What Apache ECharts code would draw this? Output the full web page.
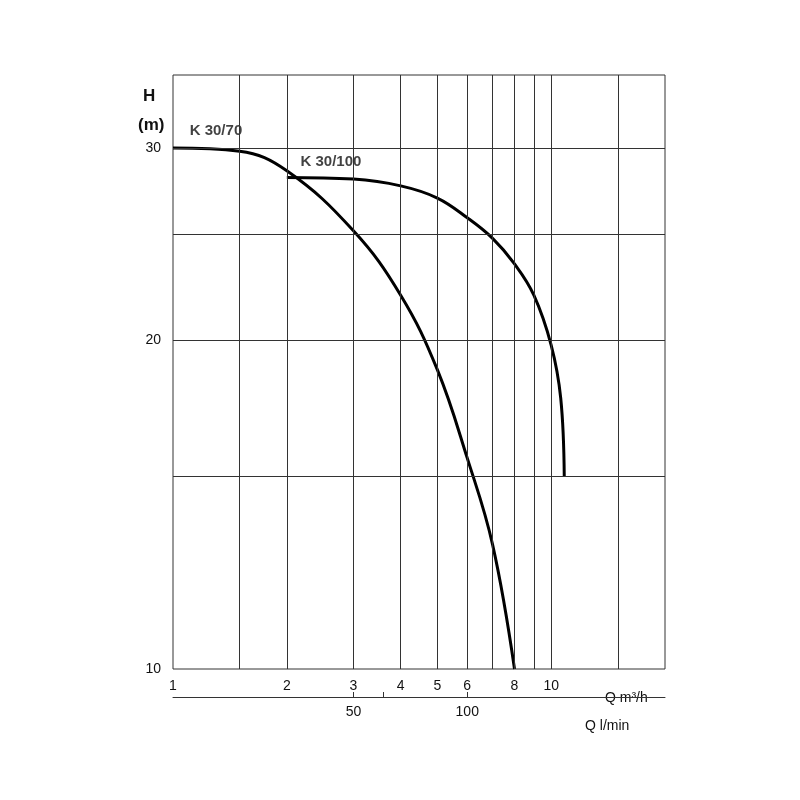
<!DOCTYPE html>
<html><head><meta charset="utf-8">
<script src="https://cdn.jsdelivr.net/npm/echarts@6/dist/echarts.min.js"></script>
<style>html,body{margin:0;background:#fff}#c{width:800px;height:800px}</style>
</head><body><div id="c"></div>
<script>
const k70Q = [1, 1.5, 2, 3, 4, 5, 6, 7, 8];
const k70H = [30, 29.8, 28.6, 25.2, 22.0, 18.8, 15.6, 13.0, 10];
const k100Q = [2, 3, 4, 5, 6, 7, 8, 9, 10, 10.6, 10.83];
const k100H = [28.2, 28.1, 27.7, 27.0, 25.9, 24.8, 23.5, 22.0, 19.8, 17.7, 15];
const xGrid = [1.5, 2, 3, 4, 5, 6, 7, 8, 9, 10, 15];
const yGrid = [15, 20, 25, 30];
const xLabels = [1, 2, 3, 4, 5, 6, 8, 10];
const yLabels = [10, 20, 30];
const lminLabels = [50, 100];
const lminTicks = [50, 60, 100];

const chart = echarts.init(document.getElementById('c'));
const gl = {color:'#333', width:1};
const gridLines = xGrid.map(v=>({xAxis:v})).concat(yGrid.map(v=>({yAxis:v})));
chart.setOption({
  animation:false,
  grid:{left:173,right:135,top:75,bottom:131,show:true,borderColor:'#333',borderWidth:1},
  xAxis:[
    {type:'log',min:1,max:20,logBase:10,position:'bottom',
     axisLine:{show:false},axisTick:{show:false},splitLine:{show:false},minorSplitLine:{show:false},
     axisLabel:{customValues:xLabels,formatter:v=>String(v),color:'#111',fontSize:14,fontFamily:'Liberation Sans',margin:10},
     name:'Q m³/h',nameLocation:'end',nameGap:-60,
     nameTextStyle:{color:'#111',fontSize:14,fontFamily:'Liberation Sans',padding:[22,0,0,0],verticalAlign:'top'}},
    {type:'log',min:1000/60,max:20000/60,position:'bottom',offset:28,
     axisLine:{show:true,lineStyle:{color:'#333'}},
     axisTick:{customValues:lminTicks,length:5,inside:true,lineStyle:{color:'#333'}},
     splitLine:{show:false},
     axisLabel:{customValues:lminLabels,formatter:v=>String(Math.round(v)),color:'#111',fontSize:14,fontFamily:'Liberation Sans',margin:8},
     name:'Q l/min',nameLocation:'end',nameGap:-80,
     nameTextStyle:{color:'#111',fontSize:14,fontFamily:'Liberation Sans',padding:[22,0,0,0],verticalAlign:'top'}}
  ],
  yAxis:{type:'log',min:10,max:35,
     axisLine:{show:false},axisTick:{show:false},splitLine:{show:false},
     axisLabel:{customValues:yLabels,formatter:v=>String(v),color:'#111',fontSize:14,fontFamily:'Liberation Sans',margin:12}},
  graphic:[
    {type:'text',left:143,top:88,style:{text:'H',font:'bold 17px Liberation Sans',fill:'#111'}},
    {type:'text',left:138,top:117,style:{text:'(m)',font:'bold 17px Liberation Sans',fill:'#111'}}
  ],
  series:[
    {type:'line',data:k70Q.map((q,i)=>[q,k70H[i]]),smooth:0.4,symbol:'none',
     lineStyle:{color:'#000',width:3},
     markLine:{silent:true,symbol:'none',label:{show:false},lineStyle:{color:'#333',width:1,type:'solid'},data:gridLines},
     endLabel:{show:false}},
    {type:'line',data:k100Q.map((q,i)=>[q,k100H[i]]),smooth:0.4,symbol:'none',
     lineStyle:{color:'#000',width:3}},
    {type:'scatter',symbolSize:0,data:[
       {value:[1.15,30],label:{show:true,formatter:'K 30/70',position:'top',distance:10,offset:[20,0]}},
       {value:[2.05,28.2],label:{show:true,formatter:'K 30/100',position:'top',distance:8,offset:[40,0]}}],
     label:{color:'#111',fontSize:15,fontWeight:'bold',fontFamily:'Liberation Sans'}}
  ]
});
</script></body></html>
